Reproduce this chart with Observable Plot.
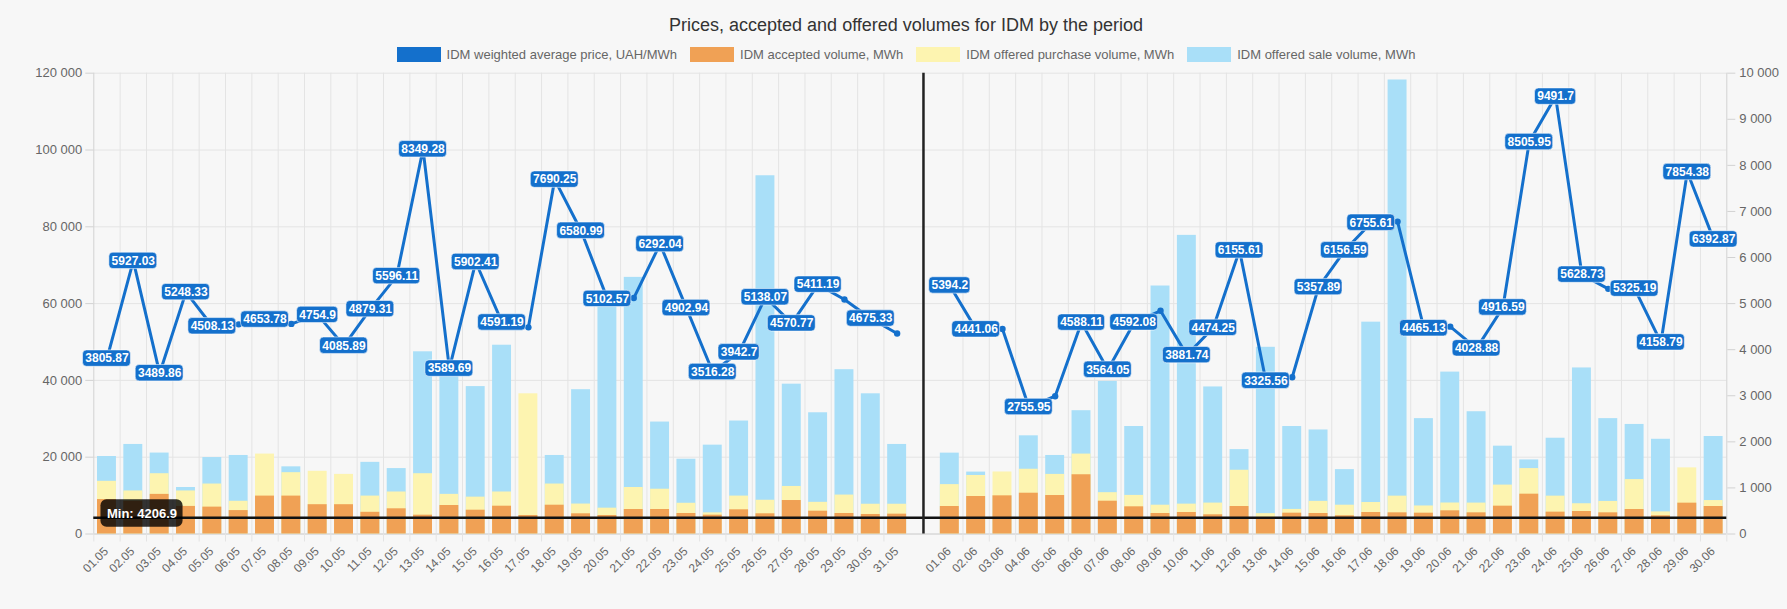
<!DOCTYPE html>
<html>
<head>
<meta charset="utf-8">
<script src="https://cdn.jsdelivr.net/npm/d3@7"></script>
<script src="https://cdn.jsdelivr.net/npm/@observablehq/plot@0.6"></script>
<style>
  html, body { margin: 0; padding: 0; background: #f7f7f7; overflow: hidden; width: 1787px; height: 609px; }
  #title { height: 40px; box-sizing: border-box; padding-top: 14px; padding-left: 25px; text-align: center;
           font: 18px "Liberation Sans", Arial, sans-serif; line-height: 22px; color: #333; }
  #legend { height: 24px; box-sizing: border-box; padding-top: 7px; padding-left: 25px; text-align: center;
            font: 13px "Liberation Sans", Arial, sans-serif; line-height: 15px; color: #666; white-space: nowrap; }
  .item { display: inline-flex; align-items: center; margin: 0 6.5px; vertical-align: top; }
  .sw { display: inline-block; width: 44px; height: 15px; margin-right: 6px; }
  #chart svg { display: block; }
</style>
</head>
<body>
<div id="title"></div>
<div id="legend"></div>
<div id="chart"></div>
<script>
// ---------- data ----------
const titleText = "Prices, accepted and offered volumes for IDM by the period";
const seriesNames = ["IDM weighted average price, UAH/MWh", "IDM accepted volume, MWh",
                     "IDM offered purchase volume, MWh", "IDM offered sale volume, MWh"];

const categories = [
  "01.05","02.05","03.05","04.05","05.05","06.05","07.05","08.05","09.05","10.05",
  "11.05","12.05","13.05","14.05","15.05","16.05","17.05","18.05","19.05","20.05",
  "21.05","22.05","23.05","24.05","25.05","26.05","27.05","28.05","29.05","30.05","31.05",
  "",
  "01.06","02.06","03.06","04.06","05.06","06.06","07.06","08.06","09.06","10.06",
  "11.06","12.06","13.06","14.06","15.06","16.06","17.06","18.06","19.06","20.06",
  "21.06","22.06","23.06","24.06","25.06","26.06","27.06","28.06","29.06","30.06"
];

// weighted average price, UAH/MWh (right axis)
const price = [
  3805.87, 5927.03, 3489.86, 5248.33, 4508.13, 4550, 4653.78, 4560, 4754.9, 4085.89,
  4879.31, 5596.11, 8349.28, 3589.69, 5902.41, 4591.19, 4485, 7690.25, 6580.99, 5102.57,
  5120, 6292.04, 4902.94, 3516.28, 3942.7, 5138.07, 4570.77, 5411.19, 5090, 4675.33, 4350,
  null,
  5394.2, 4441.06, 4448, 2755.95, 2990, 4588.11, 3564.05, 4592.08, 4844, 3881.74,
  4474.25, 6155.61, 3325.56, 3401, 5357.89, 6156.59, 6755.61, 6780, 4465.13, 4500,
  4028.88, 4916.59, 8505.95, 9491.7, 5628.73, 5320, 5325.19, 4158.79, 7854.38, 6392.87
];

// accepted volume, MWh (left axis)
const accepted = [
  8970, 8500, 10320, 7180, 7000, 6100, 9870, 9870, 7630, 7630,
  5650, 6560, 4900, 7420, 6200, 7240, 4820, 7500, 5260, 4820,
  6380, 6380, 5340, 4900, 6300, 5260, 8720, 5940, 5340, 5080, 5170,
  null,
  7160, 9765, 9940, 10620, 10020, 15430, 8540, 7080, 5340, 5600,
  5000, 7160, 4206.9, 5420, 5340, 4740, 5600, 5510, 5420, 6040,
  5510, 7250, 10370, 5690, 5860, 5510, 6380, 4740, 8030, 7160
];

// offered purchase volume, MWh
const purchase = [
  13720, 11210, 15700, 11210, 13010, 8520, 20810, 15970, 16330, 15520,
  9870, 10940, 15700, 10320, 9600, 10940, 36510, 13010, 7800, 6730,
  12110, 11660, 8000, 5500, 9870, 8790, 12380, 8250, 10140, 7750, 7750,
  null,
  12860, 15240, 16150, 16860, 15520, 20810, 10760, 10050, 7500, 7780,
  8050, 16600, 5300, 6400, 8500, 7500, 8200, 9860, 7300, 8070,
  8050, 12740, 17040, 9860, 7880, 8480, 14170, 5760, 17220, 8710
];

// offered sale volume, MWh
const sale = [
  20180, 23320, 21080, 12110, 19910, 20450, 9870, 17490, 7630, 7630,
  18660, 17040, 47450, 43000, 38390, 49160, 4820, 20450, 37580, 60100,
  66830, 29150, 19470, 23140, 29420, 93290, 39020, 31570, 42790, 36510, 23320,
  null,
  21060, 16120, 9940, 25570, 20450, 32110, 39740, 27990, 64580, 77770,
  38300, 21980, 48620, 27990, 27090, 16770, 55170, 118230, 30050, 42160,
  31840, 22870, 19290, 24940, 43240, 30050, 28530, 24670, 8030, 25390
];

const leftTicks = [0, 20000, 40000, 60000, 80000, 100000, 120000];
const rightTicks = [0, 1000, 2000, 3000, 4000, 5000, 6000, 7000, 8000, 9000, 10000];

// ---------- styles ----------
const colors = { price: "#1470cc", accepted: "#f0a155", purchase: "#fdf4b0", sale: "#a9dff8" };

// ---------- derived ----------
const k = leftTicks[leftTicks.length - 1] / rightTicks[rightTicks.length - 1]; // price -> volume axis units
const rows = categories.map((label, i) => ({ i, label, price: price[i], accepted: accepted[i], purchase: purchase[i], sale: sale[i] }));
const days = rows.filter(d => d.label !== "");
const sep = categories.indexOf("");
const pricePoints = days.filter(d => d.price != null);
const minAccepted = d3.min(accepted);
const boundaries = d3.range(0, categories.length + 1).filter(b => b !== sep && b !== sep + 1);
const fmt = d3.formatLocale({ decimal: ".", thousands: " ", grouping: [3], currency: ["", ""] }).format(",");

// title + legend
document.getElementById("title").textContent = titleText;
const legendColors = [colors.price, colors.accepted, colors.purchase, colors.sale];
document.getElementById("legend").innerHTML = seriesNames.map((n, j) =>
  `<span class="item"><span class="sw" style="background:${legendColors[j]}"></span>${n}</span>`).join("");

const font = "'Liberation Sans', Arial, sans-serif";
const gridColor = "#e4e4e4";
const axisColor = "#d2d2d2";
const minDx = 48.2, minDy = -4.4;

const plot = Plot.plot({
  width: 1787,
  height: 545,
  marginLeft: 93.3,
  marginRight: 60.7,
  marginTop: 8.7,
  marginBottom: 75.5,
  style: { background: "transparent", fontFamily: font },
  x: { type: "linear", domain: [0, categories.length] },
  y: { type: "linear", domain: [leftTicks[0], leftTicks[leftTicks.length - 1]] },
  marks: [
    Plot.ruleY(leftTicks, { stroke: gridColor }),
    Plot.ruleX(boundaries, { stroke: d => (d === 0 || d === categories.length) ? axisColor : gridColor }),
    Plot.ruleY([0], { stroke: axisColor }),
    Plot.axisX({ ticks: boundaries, tickSize: 8, tickFormat: () => "", stroke: gridColor, label: null }),
    Plot.axisY({ anchor: "left", ticks: leftTicks, tickSize: 8, tickPadding: 3.5, tickFormat: fmt,
                 fontSize: 13, fill: "#666", stroke: axisColor, label: null }),
    Plot.axisY({ anchor: "right", ticks: rightTicks.map(v => v * k), tickSize: 8, tickPadding: 4.5,
                 tickFormat: d => fmt(Math.round(d / k)), fontSize: 13, fill: "#666", stroke: axisColor, label: null }),
    // bars (drawn back to front: sale, purchase, accepted)
    Plot.rect(days, { x1: d => d.i, x2: d => d.i + 1, y1: 0, y2: "sale", fill: colors.sale, insetLeft: 3.7, insetRight: 3.7 }),
    Plot.rect(days, { x1: d => d.i, x2: d => d.i + 1, y1: 0, y2: "purchase", fill: colors.purchase, insetLeft: 3.7, insetRight: 3.7 }),
    Plot.rect(days, { x1: d => d.i, x2: d => d.i + 1, y1: 0, y2: "accepted", fill: colors.accepted, insetLeft: 3.7, insetRight: 3.7 }),
    // annotations
    Plot.ruleY([minAccepted], { stroke: "#111", strokeWidth: 2.5 }),
    Plot.ruleX([sep + 0.5], { stroke: "#222", strokeWidth: 2.5 }),
    // price line
    Plot.line(rows, { x: d => d.i + 0.5, y: d => d.price == null ? NaN : d.price * k, stroke: colors.price, strokeWidth: 3 }),
    Plot.dot(pricePoints, { x: d => d.i + 0.5, y: d => d.price * k, r: 3.2, fill: colors.price }),
    // x tick labels
    Plot.text(days, { x: d => d.i + 0.5, frameAnchor: "bottom", text: "label", rotate: -45, textAnchor: "end",
                      dy: 18, dx: 2, fontSize: 12, fill: "#666" }),
    // price labels
    Plot.text(pricePoints, { x: d => d.i + 0.5, y: d => d.price * k, text: d => String(d.price),
                             fill: "white", fontSize: 12, fontWeight: "bold" }),
    // min label
    Plot.text([minAccepted], { y: d => d, frameAnchor: "left", textAnchor: "middle", dx: minDx, dy: minDy,
                               text: d => `Min: ${d}`, fill: "white", fontSize: 13, fontWeight: "bold" })
  ]
});

document.getElementById("chart").append(plot);

// ---------- label boxes (datalabels-like, overlapping labels hidden) ----------
const svgNS = "http://www.w3.org/2000/svg";
const sx = plot.scale("x"), sy = plot.scale("y");
const fx = d3.scaleLinear(sx.domain, sx.range), fy = d3.scaleLinear(sy.domain, sy.range);
const textGroups = plot.querySelectorAll('g[aria-label="text"]');
const priceGroup = textGroups[1], minGroup = textGroups[2];

function boxLayer(beforeGroup) {
  const g = document.createElementNS(svgNS, "g");
  beforeGroup.parentNode.insertBefore(g, beforeGroup);
  return g;
}
function addRect(layer, x, y, w, h, r, fill, stroke) {
  const e = document.createElementNS(svgNS, "rect");
  e.setAttribute("x", x); e.setAttribute("y", y);
  e.setAttribute("width", w); e.setAttribute("height", h);
  e.setAttribute("rx", r); e.setAttribute("ry", r);
  e.setAttribute("fill", fill);
  if (stroke) { e.setAttribute("stroke", stroke); e.setAttribute("stroke-width", 1); }
  layer.appendChild(e);
}

const priceLayer = boxLayer(priceGroup);
const labelTexts = Array.from(priceGroup.querySelectorAll("text"));
const shown = [];
const boxH = 16.4;
pricePoints.forEach((p, j) => {
  const t = labelTexts[j];
  const w = t.getComputedTextLength() + 4.5;
  const cx = fx(p.i + 0.5), cy = fy(p.price * k);
  const b = { x0: cx - w / 2, x1: cx + w / 2, y0: cy - boxH / 2, y1: cy + boxH / 2 };
  if (shown.some(s => s.x0 < b.x1 && b.x0 < s.x1 && s.y0 < b.y1 && b.y0 < s.y1)) { t.remove(); return; }
  shown.push(b);
  addRect(priceLayer, b.x0, b.y0, w, boxH, 4, colors.price, "rgba(255,255,255,0.55)");
});

const minLayer = boxLayer(minGroup);
const mt = minGroup.querySelector("text");
const mw = mt.getComputedTextLength() + 12, mh = 27.6;
const mcx = fx(0) + minDx, mcy = fy(minAccepted) + minDy;
addRect(minLayer, mcx - mw / 2, mcy - mh / 2, mw, mh, 6, "rgba(0,0,0,0.8)");
</script>
</body>
</html>
